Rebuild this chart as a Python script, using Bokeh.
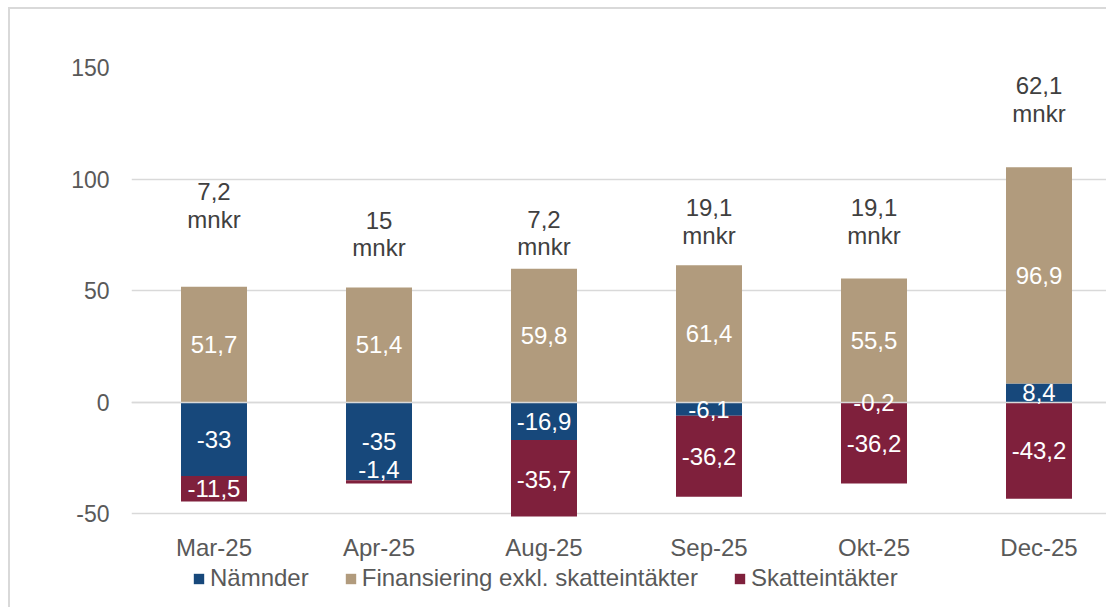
from bokeh.plotting import figure
from bokeh.layouts import column
from bokeh.models import Range1d, FixedTicker, Legend, LegendItem
from bokeh.core.properties import value
from bokeh.embed import file_html
from bokeh.resources import INLINE

# ---- data ----
months = ["Mar-25", "Apr-25", "Aug-25", "Sep-25", "Okt-25", "Dec-25"]
namnder = [-33, -35, -16.9, -6.1, -0.2, 8.4]
finansiering = [51.7, 51.4, 59.8, 61.4, 55.5, 96.9]
skatteintakter = [-11.5, -1.4, -35.7, -36.2, -36.2, -43.2]
series_names = ["Nämnder", "Finansiering exkl. skatteintäkter", "Skatteintäkter"]
y_ticks = [-50, 0, 50, 100, 150]

# ---- layout / style ----
colors = ["#17487b", "#b19b7d", "#7f203c"]
total_label_y = [94.4, 81.6, 82.0, 87.3, 87.3, 141.8]   # anchor of the "x mnkr" labels
label_nudge = {(2, 1): 5.5}                              # (series, category) -> data-unit shift
FONT = value("Liberation Sans")
FS = "24px"
FS_Y = "23px"
W = 1096

def fmt(v):
    return f"{round(v, 1):g}".replace(".", ",")

xs = [i + 0.5 for i in range(len(months))]

p = figure(width=W, height=554,
           x_range=Range1d(0, (W - 121) / 165), y_range=Range1d(-51.2, 150),
           output_backend="svg", toolbar_location=None,
           min_border_left=121, min_border_right=0,
           min_border_top=58, min_border_bottom=40,
           outline_line_color=None)

p.ygrid.ticker = FixedTicker(ticks=y_ticks)
p.ygrid.grid_line_color = "#d9d9d9"
p.ygrid.grid_line_width = 1.5
p.xgrid.visible = False

pos = [0.0] * len(months)
neg = [0.0] * len(months)
label_sets = []
for s, (vals, col) in enumerate(zip([namnder, finansiering, skatteintakter], colors)):
    bottoms, tops = [], []
    for i, v in enumerate(vals):
        if v >= 0:
            b = pos[i]; t = b + v; pos[i] = t
        else:
            b = neg[i]; t = b + v; neg[i] = t
        bottoms.append(b); tops.append(t)
    p.vbar(x=xs, width=0.4, bottom=bottoms, top=tops, fill_color=col, line_color=None)
    ly = [(b + t) / 2 + label_nudge.get((s, i), 0) for i, (b, t) in enumerate(zip(bottoms, tops))]
    label_sets.append((ly, [fmt(v) for v in vals]))

p.hspan(y=[0], line_color="#d9d9d9", line_width=1.5)

for ly, txt in label_sets:
    p.text(x=xs, y=ly, text=txt, text_align="center", text_baseline="middle",
           text_color="white", text_font=FONT, text_font_size=FS)

totals = [fmt(a + b + c) for a, b, c in zip(namnder, finansiering, skatteintakter)]
p.text(x=xs, y=total_label_y, text=totals, text_align="center", text_baseline="middle",
       text_color="#404040", text_font=FONT, text_font_size=FS)
p.text(x=xs, y=[y - 12.4 for y in total_label_y], text=["mnkr"] * len(xs),
       text_align="center", text_baseline="middle",
       text_color="#404040", text_font=FONT, text_font_size=FS)

# axes
p.xaxis.ticker = FixedTicker(ticks=xs)
p.xaxis.major_label_overrides = {x: m for x, m in zip(xs, months)}
p.yaxis.ticker = FixedTicker(ticks=y_ticks)
p.yaxis.major_label_overrides = {t: str(t) for t in y_ticks}
for ax in (p.xaxis, p.yaxis):
    ax.axis_line_color = None
    ax.major_tick_line_color = None
    ax.minor_tick_line_color = None
    ax.major_label_text_font = "Liberation Sans"
    ax.major_label_text_color = "#595959"
p.xaxis.major_label_text_font_size = FS
p.yaxis.major_label_text_font_size = FS_Y
p.yaxis.major_label_standoff = 16
p.xaxis.major_label_standoff = 11

# legend strip underneath (its frame is aligned with the main frame by the column layout)
q = figure(width=W, height=44, x_range=Range1d(0, 1), y_range=Range1d(0, 1),
           output_backend="svg", toolbar_location=None,
           x_axis_location=None, y_axis_location=None,
           min_border=0, outline_line_color=None,
           background_fill_color=None, border_fill_color=None)
q.grid.visible = False
# legend-only swatches of zero size (nothing drawn in the strip itself)
dummies = [q.vbar(x=[0.5], bottom=[0.5], top=[0.5], width=0, fill_color=c, line_color=None)
           for c in colors]
legend = Legend(items=[LegendItem(label=n, renderers=[r]) for n, r in zip(series_names, dummies)],
                orientation="horizontal", location=(61, 15),
                glyph_width=13, glyph_height=13, label_standoff=5, spacing=35,
                padding=0, margin=0, border_line_color=None, background_fill_alpha=0,
                label_text_font="Liberation Sans", label_text_font_size=FS,
                label_text_color="#595959")
q.add_layout(legend)

layout = column(p, q, spacing=0,
                styles={"margin-left": "8px", "margin-top": "7px",
                        "border-left": "2px solid #d9d9d9", "border-top": "2px solid #d9d9d9"})

open("out.html", "w").write(file_html(layout, INLINE))
